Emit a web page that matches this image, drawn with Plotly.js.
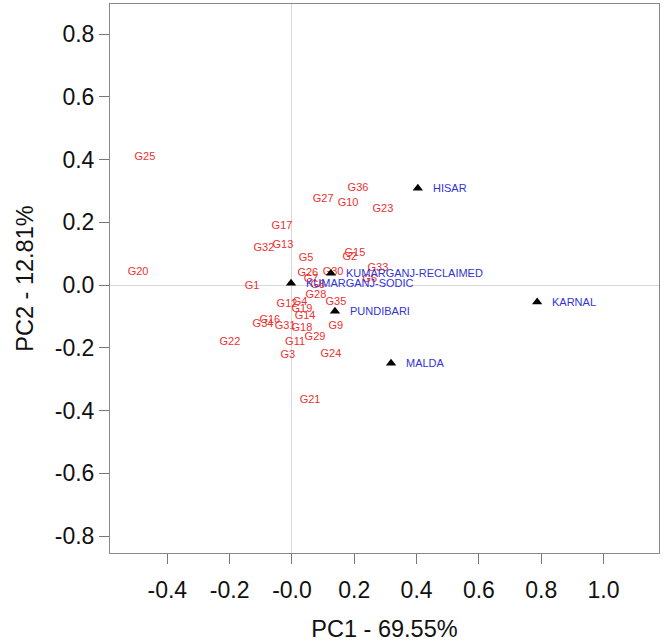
<!DOCTYPE html>
<html>
<head>
<meta charset="utf-8">
<script src="https://cdn.plot.ly/plotly-3.0.1.min.js"></script>
<style>
  body { margin: 0; background: #fff; }
  #biplot { width: 664px; height: 644px; }
</style>
</head>
<body>
<div id="biplot"></div>
<script>
// genotype scores (PC1, PC2)
var genoNames = ['G25','G20','G36','G27','G10','G23','G17','G32','G13','G5',
                 'G15','G2','G33','G26','G30','G7','G6','G8','G1','G28',
                 'G12','G4','G19','G35','G14','G16','G34','G31','G18','G9',
                 'G29','G11','G22','G3','G24','G21'];
var genoPC1 = [-0.472,-0.494,0.212,0.100,0.180,0.292,-0.032,-0.090,-0.029,0.045,
               0.202,0.186,0.276,0.051,0.132,0.061,0.250,0.083,-0.128,0.077,
               -0.016,0.026,0.032,0.141,0.042,-0.071,-0.093,-0.022,0.032,0.141,
               0.074,0.010,-0.199,-0.013,0.125,0.058];
var genoPC2 = [0.408,0.041,0.309,0.274,0.261,0.242,0.188,0.118,0.127,0.086,
               0.102,0.089,0.054,0.038,0.041,0.020,0.020,0.000,-0.003,-0.032,
               -0.061,-0.054,-0.076,-0.054,-0.099,-0.112,-0.124,-0.131,-0.137,-0.131,
               -0.166,-0.182,-0.182,-0.223,-0.220,-0.367];

// environment scores (PC1, PC2)
var envNames = ['HISAR','KUMARGANJ-RECLAIMED','KUMARGANJ-SODIC','PUNDIBARI','KARNAL','MALDA'];
var envPC1 = [0.404, 0.125, -0.003, 0.138, 0.787, 0.318];
var envPC2 = [0.309, 0.038, 0.006, -0.083, -0.054, -0.249];

var xTicks = [-0.4, -0.2, 0.0, 0.2, 0.4, 0.6, 0.8, 1.0];
var xTickText = ['-0.4', '-0.2', '-0.0', '0.2', '0.4', '0.6', '0.8', '1.0'];
var yTicks = [-0.8, -0.6, -0.4, -0.2, 0.0, 0.2, 0.4, 0.6, 0.8];
var yTickText = ['-0.8', '-0.6', '-0.4', '-0.2', '0.0', '0.2', '0.4', '0.6', '0.8'];

var genoTrace = {
    type: 'scatter',
    mode: 'text',
    x: genoPC1,
    y: genoPC2,
    text: genoNames,
    textposition: 'middle center',
    textfont: { family: 'Liberation Sans, Arial', size: 11, color: '#ee3030' },
    hoverinfo: 'text'
};

var envTrace = {
    type: 'scatter',
    mode: 'markers',
    x: envPC1,
    y: envPC2,
    marker: { symbol: 'triangle-up', size: 9, color: '#000' },
    hoverinfo: 'skip'
};

// environment labels sit a little to the right of each triangle
var envLabels = envNames.map(function (name, i) {
    return {
        x: envPC1[i], y: envPC2[i], xref: 'x', yref: 'y',
        text: name, showarrow: false,
        xanchor: 'left', yanchor: 'middle', xshift: 13,
        font: { family: 'Liberation Sans, Arial', size: 11, color: '#3333d6' }
    };
});

var axisFont = { family: 'Liberation Sans, Arial', size: 23, color: '#111' };
var titleFont = { family: 'Liberation Sans, Arial', size: 23.5, color: '#111' };

var layout = {
    width: 664,
    height: 644,
    margin: { l: 110, r: 5, t: 4, b: 91 },
    paper_bgcolor: '#fff',
    plot_bgcolor: '#fff',
    showlegend: false,
    annotations: envLabels,
    xaxis: {
        range: [-0.584, 1.178],
        tickmode: 'array',
        tickvals: xTicks,
        ticktext: xTickText,
        ticks: 'outside',
        ticklen: 10,
        tickcolor: '#777',
        tickfont: axisFont,
        ticklabelstandoff: 6,
        showgrid: false,
        zeroline: true,
        zerolinecolor: '#d8d8d8',
        zerolinewidth: 1,
        showline: true,
        mirror: true,
        linecolor: '#888',
        linewidth: 1,
        title: { text: 'PC1 - 69.55%', font: titleFont, standoff: 18 }
    },
    yaxis: {
        range: [-0.854, 0.896],
        tickmode: 'array',
        tickvals: yTicks,
        ticktext: yTickText,
        ticks: 'outside',
        ticklen: 10,
        tickcolor: '#777',
        tickfont: axisFont,
        showgrid: false,
        zeroline: true,
        zerolinecolor: '#d8d8d8',
        zerolinewidth: 1,
        showline: true,
        mirror: true,
        linecolor: '#888',
        linewidth: 1,
        title: { text: 'PC2 - 12.81%', font: titleFont, standoff: 14 }
    }
};

Plotly.newPlot('biplot', [genoTrace, envTrace], layout, { displayModeBar: false, staticPlot: true });
</script>
</body>
</html>
